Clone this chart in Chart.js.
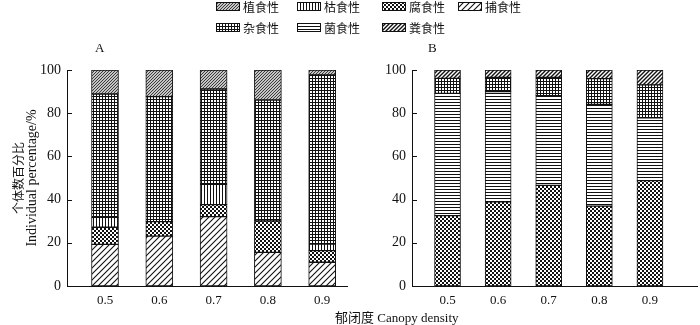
<!DOCTYPE html>
<html>
<head>
<meta charset="utf-8">
<script src="https://cdn.jsdelivr.net/npm/chart.js@4.4.1/dist/chart.umd.min.js"></script>
<style>
  body { margin: 0; background: #fff; }
  #wrap { position: relative; width: 700px; height: 325px; overflow: hidden; }
  #wrap canvas.chart { position: absolute; left: 0; top: 0; }
  .txt { position: absolute; white-space: nowrap; color: #111; line-height: 1; }
  .serif { font-family: "Liberation Serif", "Noto Sans CJK SC", serif; font-size: 13px; }
  .leg { font-family: "Noto Sans CJK SC", sans-serif; font-size: 12px; }
  .sw { position: absolute; }
</style>
</head>
<body>
<div id="wrap">
  <canvas id="chartA" class="chart" width="700" height="325"></canvas>
  <canvas id="chartB" class="chart" width="700" height="325"></canvas>
  <div id="legend"></div>
  <div class="txt serif" style="left:95px;top:41px;">A</div>
  <div class="txt serif" style="left:428px;top:41px;">B</div>
  <div class="txt serif" style="left:335px;top:311px;">郁闭度 Canopy density</div>
</div>
<script>
// canopy density classes
const categories = ['0.5', '0.6', '0.7', '0.8', '0.9'];
const yTicks = [0, 20, 40, 60, 80, 100];

// panel A, % of individuals per feeding group
const predatorA = [19.3, 23.1, 32.1, 15.6, 11.0];
const saprophageA = [7.9, 6.7, 5.6, 14.5, 5.4];
const detritivoreA = [4.6, 0, 9.4, 0, 3.0];
const omnivoreA = [57.1, 57.9, 44.1, 56.0, 78.3];
const herbivoreA = [11.1, 12.3, 8.8, 13.9, 2.3];

// panel B
const saprophageB = [32.6, 39.0, 46.6, 37.0, 48.8];
const fungivoreB = [56.6, 51.0, 41.5, 47.1, 29.1];
const omnivoreB = [6.9, 6.6, 8.5, 11.9, 15.2];
const coprophageB = [3.9, 3.4, 3.4, 4.0, 6.9];

// hatch fills, one tile each
function makePattern(kind) {
  const sizes = { herb: 3, detri: 3, sapro: 4, pred: 6, omni: 3, fung: 3, copro: 4 };
  const s = sizes[kind];
  const c = document.createElement('canvas');
  c.width = s; c.height = s;
  const g = c.getContext('2d');
  g.fillStyle = '#fff';
  g.fillRect(0, 0, s, s);
  g.strokeStyle = kind === 'herb' ? '#333' : '#111';
  g.fillStyle = '#111';
  g.lineWidth = 1.1;
  const diag = () => {
    g.beginPath();
    g.moveTo(-1, s + 1); g.lineTo(s + 1, -1);
    g.moveTo(-1, 1); g.lineTo(1, -1);
    g.moveTo(s - 1, s + 1); g.lineTo(s + 1, s - 1);
    g.stroke();
  };
  if (kind === 'herb' || kind === 'pred' || kind === 'copro') {
    if (kind === 'copro') g.lineWidth = 1.4;
    diag();
  } else if (kind === 'detri') {
    g.fillRect(0, 0, 1, s);
  } else if (kind === 'fung') {
    g.fillRect(0, 0, s, 1);
  } else if (kind === 'omni') {
    g.fillRect(0, 0, 1, s);
    g.fillRect(0, 0, s, 1);
  } else if (kind === 'sapro') {
    g.fillRect(0, 0, 2, 2);
    g.fillRect(2, 2, 2, 2);
  }
  return g.createPattern(c, 'repeat');
}

const groups = {
  herb: { name: '植食性', fill: makePattern('herb') },
  detri: { name: '枯食性', fill: makePattern('detri') },
  sapro: { name: '腐食性', fill: makePattern('sapro') },
  pred: { name: '捕食性', fill: makePattern('pred') },
  omni: { name: '杂食性', fill: makePattern('omni') },
  fung: { name: '菌食性', fill: makePattern('fung') },
  copro: { name: '粪食性', fill: makePattern('copro') }
};

// legend: two rows, four columns
const legendSlots = [
  ['herb', 216, 2], ['detri', 297, 2], ['sapro', 382, 2], ['pred', 458, 2],
  ['omni', 216, 23], ['fung', 297, 23], ['copro', 382, 23]
];
const legend = document.getElementById('legend');
legendSlots.forEach(([key, x, y]) => {
  const sw = document.createElement('canvas');
  sw.width = 24; sw.height = 9;
  sw.className = 'sw';
  sw.style.left = x + 'px';
  sw.style.top = y + 'px';
  const g = sw.getContext('2d');
  g.fillStyle = groups[key].fill;
  g.fillRect(0, 0, 24, 9);
  g.strokeStyle = '#111';
  g.strokeRect(0.5, 0.5, 23, 8);
  legend.appendChild(sw);
  const t = document.createElement('div');
  t.className = 'txt leg';
  t.style.left = (x + 27) + 'px';
  t.style.top = (y - 1.5) + 'px';
  t.textContent = groups[key].name;
  legend.appendChild(t);
});

function series(key, values, thickness) {
  return {
    label: groups[key].name,
    data: categories.map((c, i) => ({ x: Number(c), y: values[i] })),
    backgroundColor: groups[key].fill,
    borderColor: '#111',
    borderWidth: 1,
    borderSkipped: false,
    barThickness: thickness
  };
}

// short inward tick marks on the y axis
const innerTicks = {
  id: 'innerTicks',
  afterDraw(chart) {
    const { ctx, chartArea } = chart;
    const ys = chart.scales.y;
    ctx.save();
    ctx.strokeStyle = '#111';
    ctx.lineWidth = 1;
    ctx.beginPath();
    ys.ticks.forEach(t => {
      const py = Math.round(ys.getPixelForValue(t.value)) + 0.5;
      ctx.moveTo(chartArea.left, py);
      ctx.lineTo(chartArea.left + 5, py);
    });
    ctx.stroke();
    ctx.restore();
  }
};

// two-line y title: Chinese line, then English line
const yTitleLines = {
  id: 'yTitleLines',
  afterDraw(chart) {
    const { ctx, chartArea } = chart;
    const cy = (chartArea.top + chartArea.bottom) / 2;
    ctx.save();
    ctx.fillStyle = '#111';
    ctx.textAlign = 'center';
    ctx.textBaseline = 'middle';
    ctx.translate(18, cy);
    ctx.rotate(-Math.PI / 2);
    ctx.font = '12px "Noto Sans CJK SC", sans-serif';
    ctx.fillText('个体数百分比', 0, 0);
    ctx.font = '14px "Liberation Serif", serif';
    ctx.fillText('Individual percentage/%', 0, 14);
    ctx.restore();
  }
};

const serif = { family: '"Liberation Serif", "Noto Sans CJK SC", serif', size: 13 };

function panelOptions(p) {
  return {
    responsive: false,
    animation: false,
    layout: { padding: p.padding },
    plugins: { legend: { display: false }, tooltip: { enabled: false } },
    scales: {
      x: {
        type: 'linear',
        offset: false,
        stacked: true,
        min: p.xMin,
        max: p.xMax,
        afterBuildTicks: s => { s.ticks = categories.map(c => ({ value: Number(c) })); },
        afterFit: s => { s.height = 39; },
        grid: { display: false, drawTicks: false },
        border: { display: true, color: '#111', width: 1 },
        ticks: {
          autoSkip: false,
          maxRotation: 0,
          padding: 7,
          color: '#111',
          font: serif,
          callback: v => Number(v).toFixed(1)
        }
      },
      y: {
        stacked: true,
        min: 0,
        max: 100,
        afterBuildTicks: s => { s.ticks = yTicks.map(v => ({ value: v })); },
        afterFit: s => { s.width = p.yWidth; },
        grid: { display: false, drawTicks: false },
        border: { display: true, color: '#111', width: 1 },
        ticks: { padding: 6, color: '#111', font: { family: serif.family, size: 14 } }
      }
    }
  };
}

new Chart(document.getElementById('chartA'), {
  type: 'bar',
  data: {
    datasets: [
      series('pred', predatorA, 27),
      series('sapro', saprophageA, 27),
      series('detri', detritivoreA, 27),
      series('omni', omnivoreA, 27),
      series('herb', herbivoreA, 27)
    ]
  },
  options: panelOptions({
    padding: { left: 0, top: 70, right: 353, bottom: 0 },
    xMin: 0.43,
    xMax: 0.9457,
    yWidth: 67
  }),
  plugins: [innerTicks, yTitleLines]
});

new Chart(document.getElementById('chartB'), {
  type: 'bar',
  data: {
    datasets: [
      series('sapro', saprophageB, 26),
      series('fung', fungivoreB, 26),
      series('omni', omnivoreB, 26),
      series('copro', coprophageB, 26)
    ]
  },
  options: panelOptions({
    padding: { left: 352, top: 70, right: 3, bottom: 0 },
    xMin: 0.4298,
    xMax: 0.993,
    yWidth: 60
  }),
  plugins: [innerTicks]
});
</script>
</body>
</html>
